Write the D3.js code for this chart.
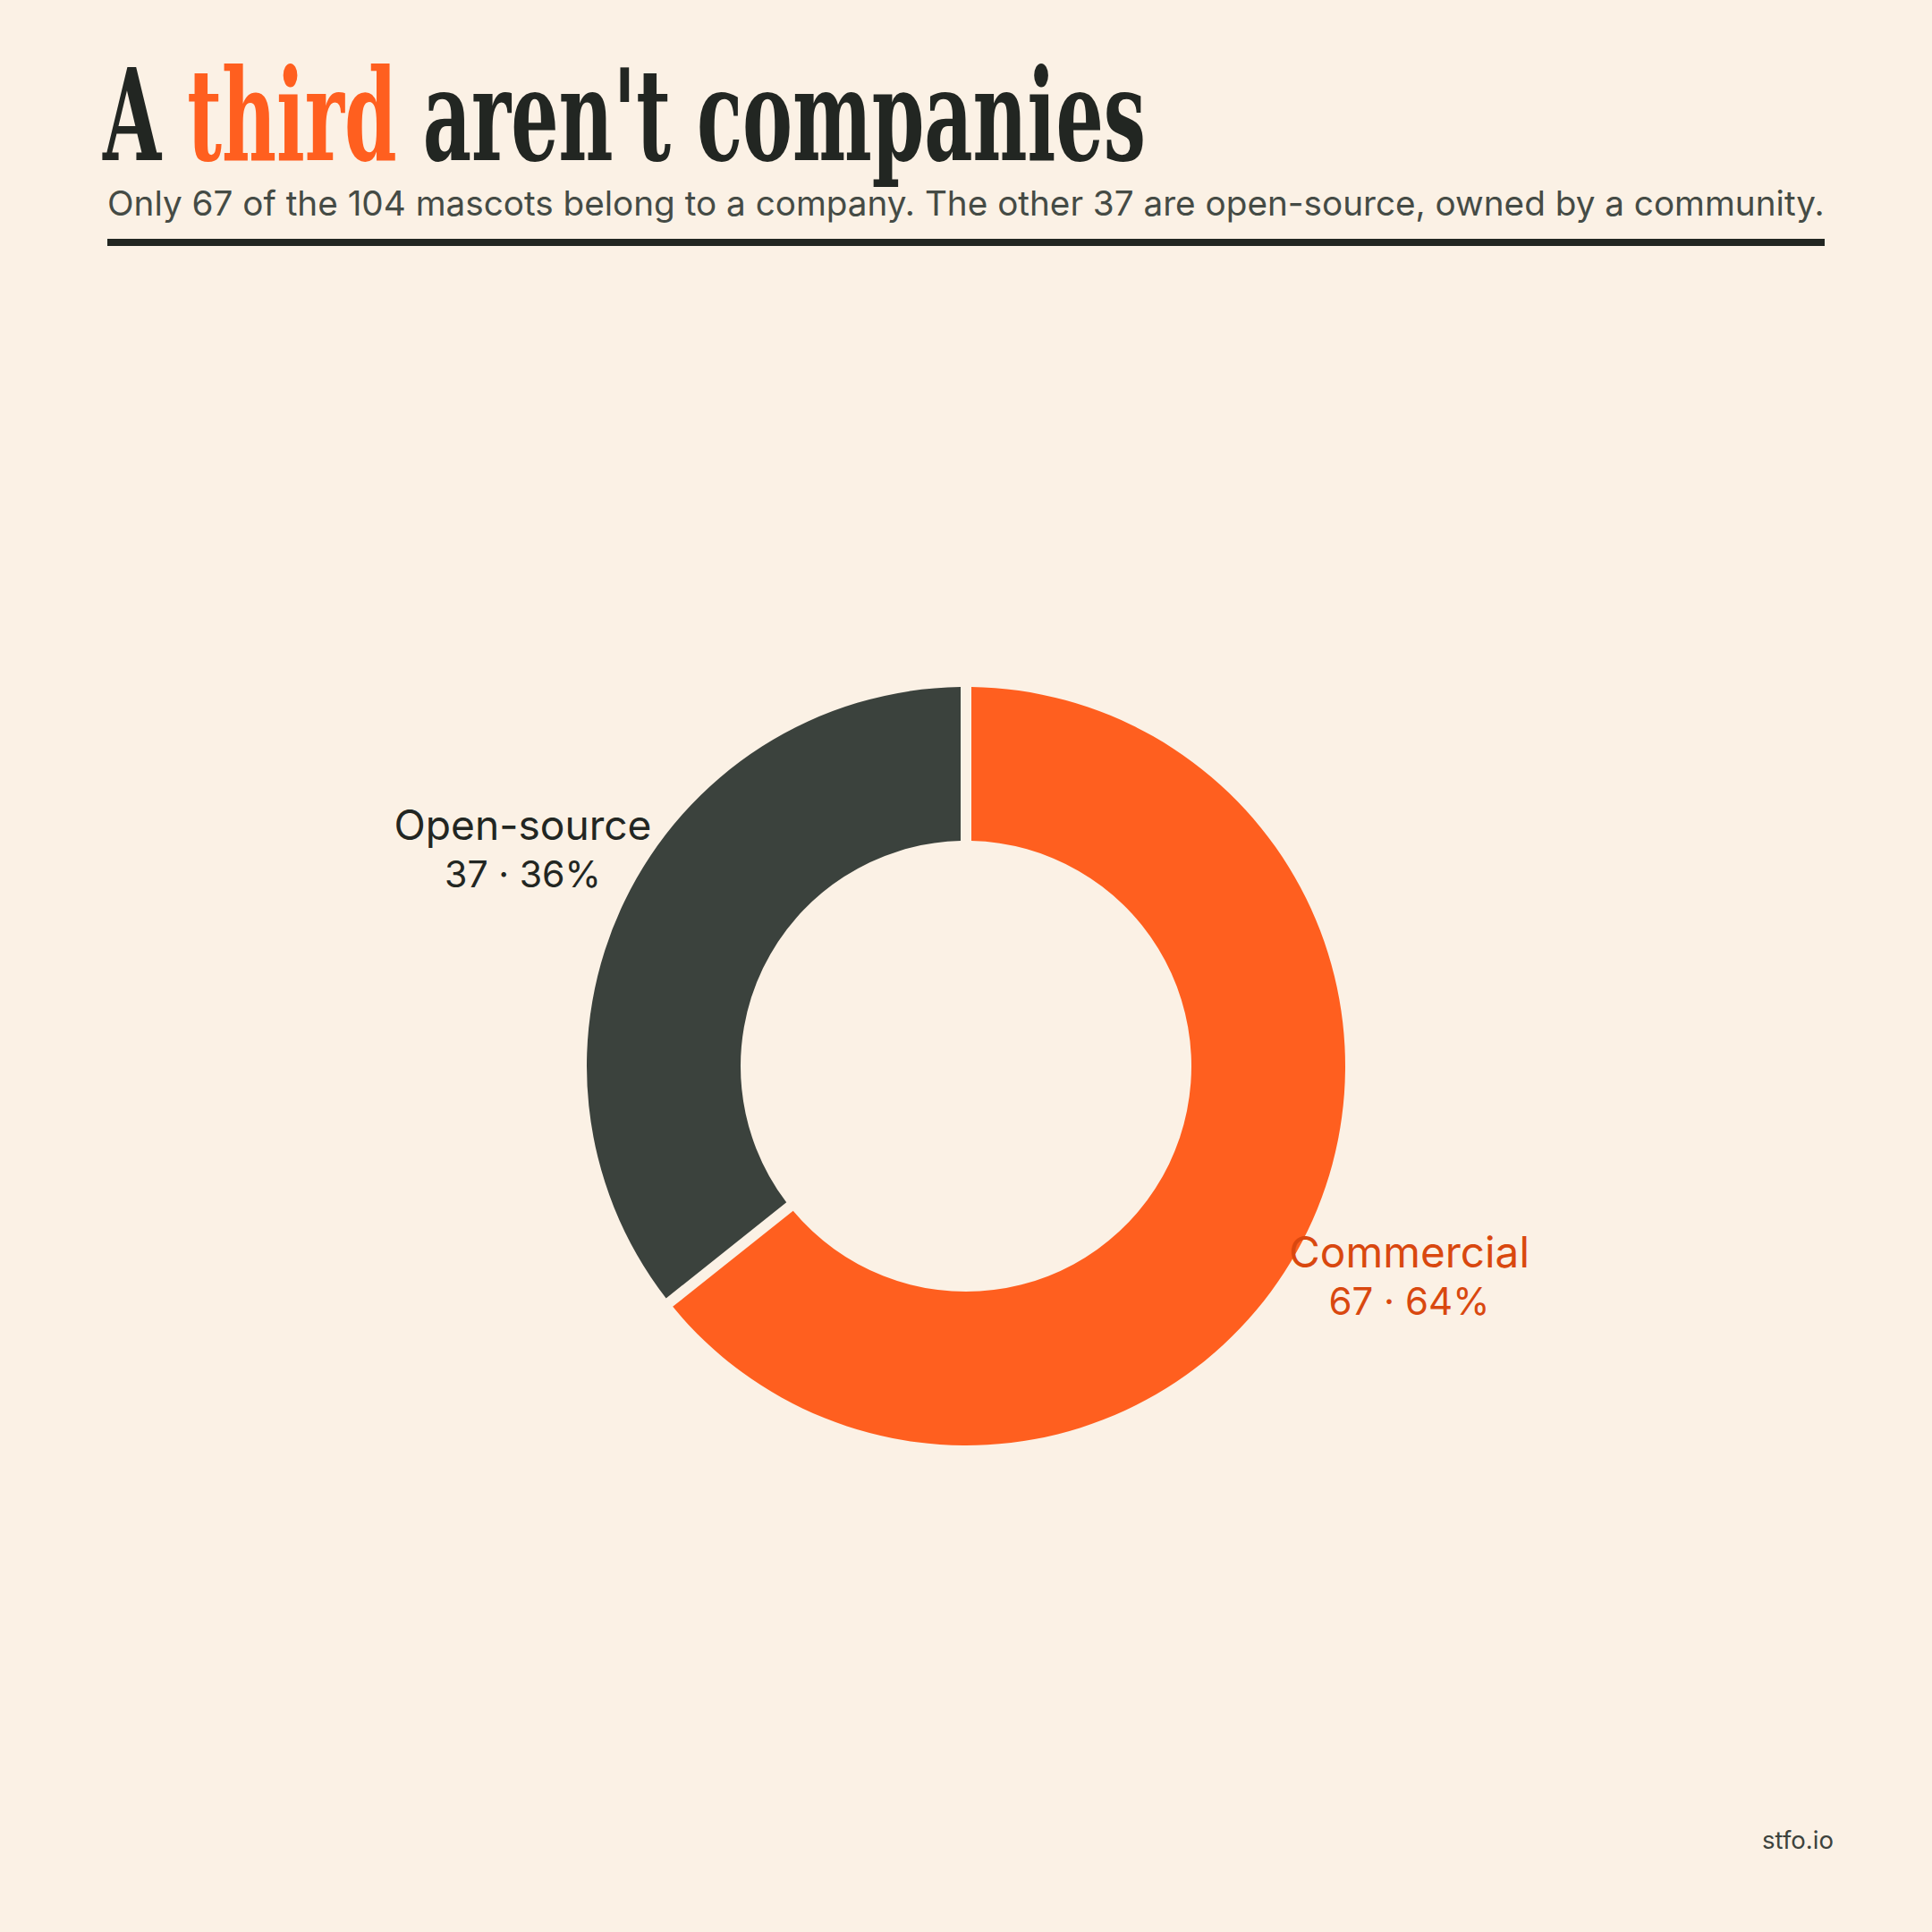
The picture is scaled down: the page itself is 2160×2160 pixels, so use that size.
<!DOCTYPE html>
<html>
<head>
<meta charset="utf-8">
<script src="https://cdn.jsdelivr.net/npm/d3@7"></script>
<style>
  html, body { margin: 0; padding: 0; background: #FBF1E5; }
  svg { display: block; }
</style>
</head>
<body>
<script>
// ---- data ----
const categories = ["Commercial", "Open-source"];
const values = [67, 37];
const sliceColors = ["#FF5F1F", "#3B423D"];
const labelColors = ["#D9480F", "#222622"];
const titleParts = ["A", "third", "aren't companies"];
const titleColors = ["#222622", "#FF5F1F", "#222622"];
const subtitle = "Only 67 of the 104 mascots belong to a company. The other 37 are open-source, owned by a community.";
const footer = "stfo.io";

const W = 2160, H = 2160;
const SANS = "Inter, 'Noto Sans', sans-serif";
const svg = d3.select("body").append("svg").attr("width", W).attr("height", H);
svg.append("rect").attr("width", W).attr("height", H).attr("fill", "#FBF1E5");

// fit a text's font size so that its natural width equals target
function fitSize(sel, target, base) {
  sel.attr("font-size", base);
  const w = sel.node().getComputedTextLength();
  sel.attr("font-size", base * target / w);
}

// title: measured as one line, then drawn as separate words, horizontally condensed
const titleFamily = "'DejaVu Serif Condensed', 'DejaVu Serif', serif";
const titleSize = 142;
const tmp = svg.append("text")
  .attr("font-family", titleFamily).attr("font-stretch", "condensed")
  .attr("font-weight", 700).attr("font-size", titleSize)
  .text(titleParts.join(" "));
const full = tmp.node().getComputedTextLength();
const titleX = 115, titleY = 179, titleW = 1166, k = titleW / full;
let idx = 0;
const starts = titleParts.map(p => {
  const s = idx === 0 ? 0 : tmp.node().getSubStringLength(0, idx);
  idx += p.length + 1;
  return s;
});
tmp.remove();
titleParts.forEach((p, i) => {
  svg.append("text")
    .attr("transform", `translate(${titleX + starts[i] * k},${titleY}) scale(${k},1)`)
    .attr("font-family", titleFamily).attr("font-stretch", "condensed")
    .attr("font-weight", 700).attr("font-size", titleSize)
    .attr("fill", titleColors[i])
    .text(p);
});

// subtitle
const sub = svg.append("text")
  .attr("x", 120).attr("y", 241)
  .attr("font-family", SANS)
  .attr("fill", "#454B45")
  .text(subtitle);
fitSize(sub, 1920, 36);

// rule
svg.append("rect").attr("x", 120).attr("y", 267).attr("width", 1920).attr("height", 8).attr("fill", "#222622");

// donut
const cx = 1080, cy = 1192, outerR = 424, innerR = 252, labelR = 550, gap = 12;
const total = d3.sum(values);
const data = categories.map((c, i) => ({ cat: c, value: values[i], i }));
const pie = d3.pie().value(d => d.value).sort(null).padAngle(gap / outerR);
const arc = d3.arc().innerRadius(innerR).outerRadius(outerR).padRadius(outerR);
const labelArc = d3.arc().innerRadius(labelR).outerRadius(labelR);
const arcs = pie(data);

const g = svg.append("g").attr("transform", `translate(${cx},${cy})`);
g.selectAll("path").data(arcs).join("path")
  .attr("d", arc)
  .attr("fill", d => sliceColors[d.data.i]);

const lab = g.selectAll("g.lab").data(arcs).join("g").attr("class", "lab")
  .attr("transform", d => `translate(${labelArc.centroid(d)})`);
lab.append("text")
  .attr("y", -14)
  .attr("text-anchor", "middle")
  .attr("font-family", SANS)
  .attr("font-size", 38)
  .attr("fill", d => labelColors[d.data.i])
  .text(d => d.data.cat)
  .each(function(d) { fitSize(d3.select(this), d.data.i === 0 ? 269 : 288, 38); });
lab.append("text")
  .attr("y", 39)
  .attr("text-anchor", "middle")
  .attr("font-family", SANS)
  .attr("font-size", 38)
  .attr("fill", d => labelColors[d.data.i])
  .text(d => `${d.data.value} · ${Math.round(d.data.value / total * 100)}%`)
  .each(function(d) { fitSize(d3.select(this), d.data.i === 0 ? 180 : 175, 38); });

// footer
const foot = svg.append("text")
  .attr("x", 2050).attr("y", 2067)
  .attr("text-anchor", "end")
  .attr("font-family", SANS)
  .attr("fill", "#3D433D")
  .text(footer);
fitSize(foot, 80, 26);
</script>
</body>
</html>
